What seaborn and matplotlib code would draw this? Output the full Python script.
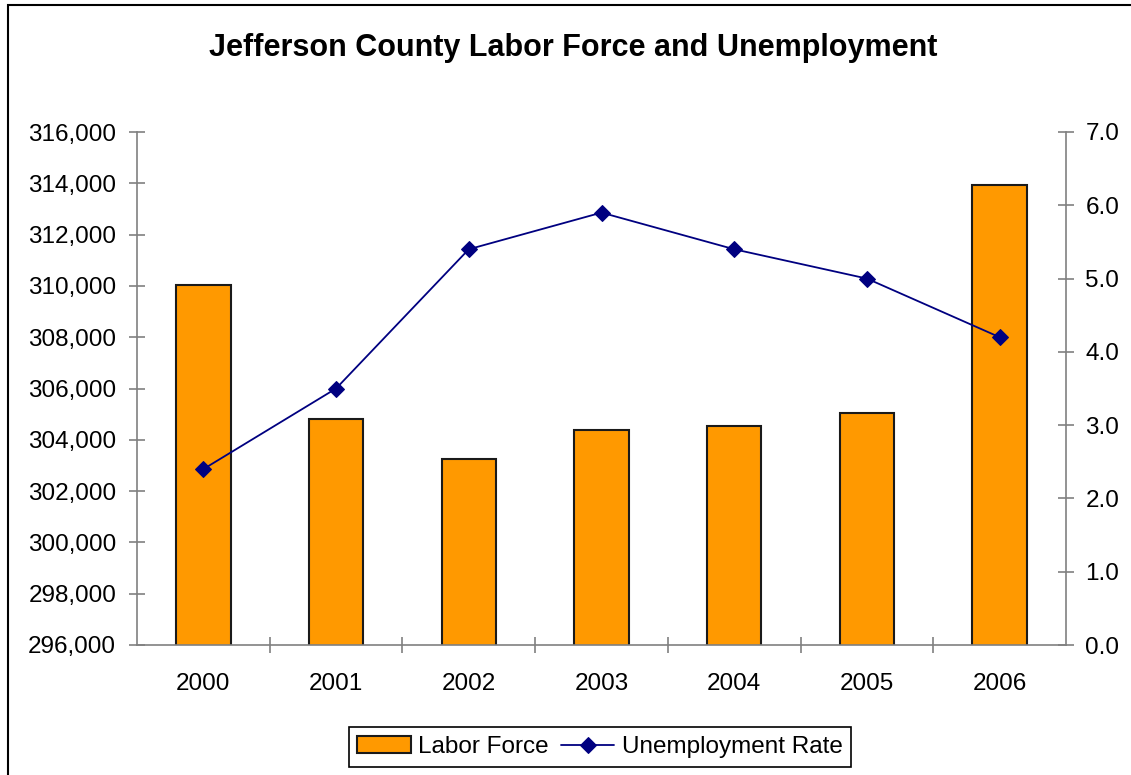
import matplotlib
matplotlib.use("Agg")
import matplotlib.pyplot as plt
import seaborn as sns
import pandas as pd
from matplotlib.patches import Rectangle
from matplotlib.ticker import FuncFormatter, FixedLocator

years = ["2000", "2001", "2002", "2003", "2004", "2005", "2006"]
labor_force = [310050, 304800, 303250, 304380, 304520, 305030, 313930]
unemployment_rate = [2.4, 3.5, 5.4, 5.9, 5.4, 5.0, 4.2]

df = pd.DataFrame({"Year": years, "Labor Force": labor_force,
                   "Unemployment Rate": unemployment_rate})

sns.set_theme(style="white")
plt.rcParams["font.family"] = ["Liberation Sans", "DejaVu Sans"]
plt.rcParams["text.color"] = "black"
plt.rcParams["xtick.labelcolor"] = "black"
plt.rcParams["ytick.labelcolor"] = "black"

fig = plt.figure(figsize=(11.31, 7.75), dpi=100)
ax = fig.add_axes([137/1131, 1-645/775, (1066-137)/1131, (645-132)/775])

sns.barplot(data=df, x="Year", y="Labor Force", ax=ax, color="#FF9900",
            saturation=1, width=0.41, edgecolor="#1a1a1a", linewidth=1.5,
            label="Labor Force")
if ax.get_legend() is not None:
    ax.get_legend().remove()
ax.set_ylim(296000, 316000)
ax.set_yticks(range(296000, 316001, 2000))
ax.yaxis.set_major_formatter(FuncFormatter(lambda v, p: f"{int(v):,}"))
ax.set_xlabel("")
ax.set_ylabel("")

ax2 = ax.twinx()
sns.lineplot(data=df, x="Year", y="Unemployment Rate", ax=ax2, color="#000080",
             marker="D", markersize=8, linewidth=1.3, markeredgecolor="#000080",
             label="Unemployment Rate", legend=False)
if ax2.get_legend() is not None:
    ax2.get_legend().remove()
ax2.set_ylim(0, 7)
ax2.set_yticks([i for i in range(8)])
ax2.yaxis.set_major_formatter(FuncFormatter(lambda v, p: f"{v:.1f}"))
ax2.set_ylabel("")
ax2.set_xlabel("")
ax.set_xlim(-0.5, len(years) - 0.5)
ax2.set_xlim(-0.5, len(years) - 0.5)

gray = "#808080"
for a in (ax, ax2):
    for s in a.spines.values():
        s.set_visible(False)
ax.spines["left"].set_visible(True)
ax.spines["bottom"].set_visible(True)
ax2.spines["right"].set_visible(True)
for s in (ax.spines["left"], ax.spines["bottom"], ax2.spines["right"]):
    s.set_color(gray)
    s.set_linewidth(1.2)

ax.tick_params(axis="y", direction="inout", length=12, width=1.2, color=gray,
               labelsize=17.5, pad=9, left=True, labelcolor="black")
ax2.tick_params(axis="y", direction="inout", length=12, width=1.2, color=gray,
                labelsize=17.5, pad=8, right=True, labelcolor="black")
ax.tick_params(axis="x", which="major", length=0, labelsize=17.5, pad=20,
               labelcolor="black")
ax.xaxis.set_minor_locator(FixedLocator([i + 0.5 for i in range(len(years) - 1)]))
ax.tick_params(axis="x", which="minor", direction="inout", length=12, width=1.2,
               color=gray, bottom=True)
ax.grid(False)
ax2.grid(False)

fig.text(573/1131, 1-48/775, "Jefferson County Labor Force and Unemployment",
         ha="center", va="center", fontsize=22, fontweight="bold", color="black")

h1, l1 = ax.get_legend_handles_labels()
h2, l2 = ax2.get_legend_handles_labels()
leg = fig.legend(h1 + h2, l1 + l2, loc="center", bbox_to_anchor=(600/1131, 1-747/775),
                 ncol=2, fontsize=17.5, frameon=True, fancybox=False,
                 edgecolor="black", framealpha=1, handlelength=2.2,
                 handletextpad=0.3, columnspacing=0.5, borderpad=0.35)
leg.get_frame().set_linewidth(1.2)
for t in leg.get_texts():
    t.set_color("black")

fig.patches.append(Rectangle((8/1131, -0.1), 2, 1-5/775+0.1, transform=fig.transFigure,
                             fill=False, edgecolor="black", linewidth=1.5))

fig.savefig("out.png", dpi=100)
